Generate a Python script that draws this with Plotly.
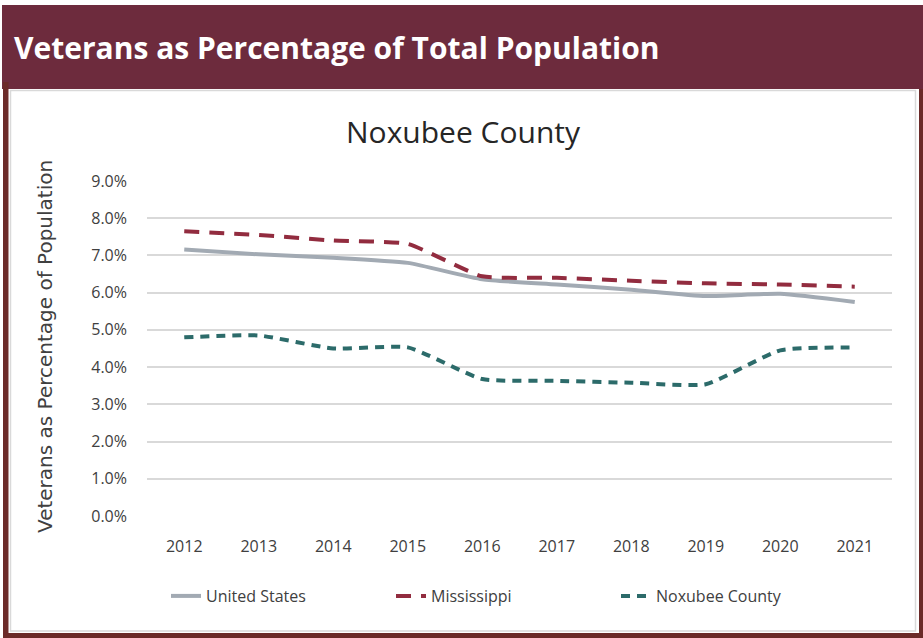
import plotly.graph_objects as go

years = ["2012", "2013", "2014", "2015", "2016", "2017", "2018", "2019", "2020", "2021"]
united_states = [7.16, 7.03, 6.94, 6.80, 6.36, 6.22, 6.08, 5.91, 5.97, 5.75]
mississippi = [7.65, 7.55, 7.40, 7.31, 6.44, 6.40, 6.32, 6.25, 6.22, 6.16]
noxubee = [4.80, 4.85, 4.50, 4.53, 3.68, 3.63, 3.58, 3.54, 4.45, 4.53]
y_ticks = [0, 1, 2, 3, 4, 5, 6, 7, 8, 9]
y_tick_labels = ["0.0%", "1.0%", "2.0%", "3.0%", "4.0%", "5.0%", "6.0%", "7.0%", "8.0%", "9.0%"]

W, H = 923, 638
PL, PR, PT, PB = 147, 892, 181, 516  # plot area in pixels


def px(x):
    return (x - PL) / (PR - PL)


def py(y):
    return (PB - y) / (PB - PT)


fig = go.Figure()
fig.add_trace(go.Scatter(x=years, y=united_states, name="United States", mode="lines",
                         line=dict(color="#A2AAB3", width=4, shape="spline", smoothing=0.5)))
fig.add_trace(go.Scatter(x=years, y=mississippi, name="Mississippi", mode="lines",
                         line=dict(color="#922C3F", width=4, dash="15px,10px", shape="spline", smoothing=0.5)))
fig.add_trace(go.Scatter(x=years, y=noxubee, name="Noxubee County", mode="lines",
                         line=dict(color="#2C6B6A", width=4, dash="9px,7px", shape="spline", smoothing=0.5)))

shapes = [
    # header band
    dict(type="rect", xref="paper", yref="paper", x0=px(2), x1=px(923), y0=py(89), y1=py(5),
         fillcolor="#6D2B3D", line=dict(width=0), layer="below"),
    # outer borders
    dict(type="rect", xref="paper", yref="paper", x0=px(3), x1=px(8.5), y0=py(638), y1=py(82),
         fillcolor="#6B2A28", line=dict(width=0), layer="below"),
    dict(type="rect", xref="paper", yref="paper", x0=px(919), x1=px(923), y0=py(638), y1=py(89),
         fillcolor="#6B2A28", line=dict(width=0), layer="below"),
    dict(type="rect", xref="paper", yref="paper", x0=px(3), x1=px(923), y0=py(638), y1=py(633),
         fillcolor="#6B2A28", line=dict(width=0), layer="below"),
    # inner chart frame
    dict(type="rect", xref="paper", yref="paper", x0=px(10.5), x1=px(915.5), y0=py(631), y1=py(90.5),
         fillcolor="rgba(0,0,0,0)", line=dict(color="#D9D9D9", width=1.5), layer="below"),
]

annotations = [
    dict(text="<b>Veterans as Percentage of Total Population</b>", xref="paper", yref="paper",
         x=px(12), y=py(47), xanchor="left", yanchor="middle", showarrow=False,
         font=dict(family="Open Sans", size=30, color="white")),
    dict(text="Noxubee County", xref="paper", yref="paper",
         x=px(463), y=py(131), xanchor="center", yanchor="middle", showarrow=False,
         font=dict(family="Open Sans", size=30, color="#262626")),
    dict(text="Veterans as Percentage of Population", xref="paper", yref="paper",
         x=px(45), y=py(347), xanchor="center", yanchor="middle", showarrow=False, textangle=-90,
         font=dict(family="DejaVu Sans", size=20, color="#404040")),
]

fig.update_layout(
    width=W, height=H,
    margin=dict(l=PL, r=W - PR, t=PT, b=H - PB, pad=0),
    paper_bgcolor="white", plot_bgcolor="white",
    shapes=shapes, annotations=annotations,
    showlegend=True,
    legend=dict(orientation="h", x=px(166), y=py(596), xanchor="left", yanchor="middle",
                font=dict(family="Open Sans", size=16, color="#404040"),
                entrywidth=180, entrywidthmode="pixels", bgcolor="rgba(0,0,0,0)"),
    xaxis=dict(type="category", range=[-0.5, 9.5], showgrid=False, zeroline=False,
               showline=False, ticks="", tickfont=dict(family="Open Sans", size=16, color="#404040"),
               ticklabelstandoff=19),
    yaxis=dict(range=[0, 9], tickvals=y_ticks, ticktext=y_tick_labels, showgrid=True,
               gridcolor="#D9D9D9", gridwidth=1.5, zeroline=False, showline=False, ticks="",
               tickfont=dict(family="Open Sans", size=16, color="#404040"), ticklabelstandoff=19),
)

fig.write_html("out.html", config={"displayModeBar": False},
               post_script="document.body.style.margin='0px';")
